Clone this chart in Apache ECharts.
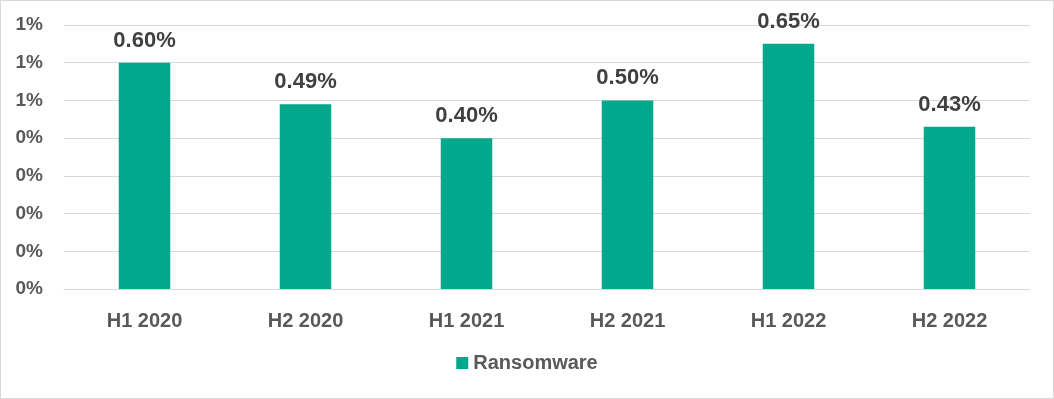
<!DOCTYPE html>
<html>
<head>
<meta charset="utf-8">
<script src="https://cdn.jsdelivr.net/npm/echarts@6/dist/echarts.min.js"></script>
<style>
  html, body { margin: 0; padding: 0; background: #fff; }
  #chart { width: 1052px; height: 397px; border: 1px solid #d9d9d9; }
</style>
</head>
<body>
<div id="chart"></div>
<script>
const categories = ["H1 2020", "H2 2020", "H1 2021", "H2 2021", "H1 2022", "H2 2022"]
const ransomware = [0.60, 0.49, 0.40, 0.50, 0.65, 0.43]

const font = "Liberation Sans"
const chart = echarts.init(document.getElementById("chart"))

chart.setOption({
  animation: false,
  color: ["#02a88b"],
  grid: { left: 63, right: 23, top: 24, bottom: 109 },
  legend: {
    bottom: 20,
    left: "center",
    itemWidth: 12,
    itemHeight: 12,
    itemGap: 6,
    icon: "rect",
    textStyle: { color: "#595959", fontSize: 20, fontWeight: "bold", fontFamily: font }
  },
  xAxis: {
    type: "category",
    data: categories,
    axisLine: { lineStyle: { color: "#d9d9d9" } },
    axisTick: { show: false },
    axisLabel: { color: "#595959", fontSize: 20, fontWeight: "bold", fontFamily: font, margin: 22 }
  },
  yAxis: {
    type: "value",
    min: 0,
    max: 0.7,
    interval: 0.1,
    axisLine: { show: false },
    axisTick: { show: false },
    axisLabel: {
      color: "#595959",
      fontSize: 19,
      fontWeight: "bold",
      fontFamily: font,
      margin: 21,
      formatter: v => Math.round(v) + "%"
    },
    splitLine: { lineStyle: { color: "#d9d9d9", width: 1 } }
  },
  series: [
    {
      name: "Ransomware",
      type: "bar",
      barWidth: "32%",
      data: ransomware,
      label: {
        show: true,
        position: "top",
        distance: 11,
        color: "#404040",
        fontSize: 22,
        fontWeight: "bold",
        fontFamily: font,
        formatter: p => p.value.toFixed(2) + "%"
      }
    }
  ]
})
</script>
</body>
</html>
